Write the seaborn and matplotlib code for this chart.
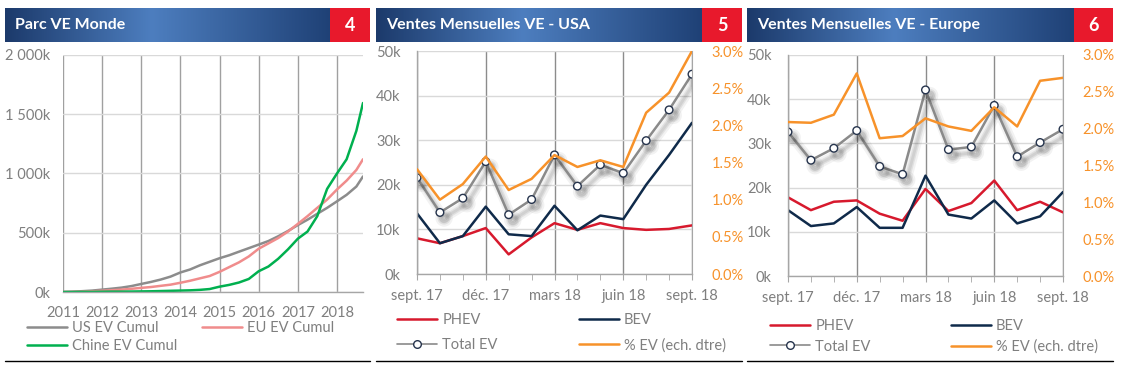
import matplotlib
matplotlib.use("Agg")
import matplotlib.pyplot as plt
import matplotlib.dates as mdates
import matplotlib.patheffects as pe
from matplotlib.colors import LinearSegmentedColormap
from matplotlib.lines import Line2D
from matplotlib.patches import Rectangle
from matplotlib.ticker import FuncFormatter, MultipleLocator, FixedLocator
import numpy as np
import pandas as pd
import seaborn as sns

# --- DONNEES ---

# Parc VE Monde (cumul, en milliers)
parc_dates = ["2011-01-01", "2011-04-01", "2011-07-01", "2011-10-01",
              "2012-01-01", "2012-04-01", "2012-07-01", "2012-10-01",
              "2013-01-01", "2013-04-01", "2013-07-01", "2013-10-01",
              "2014-01-01", "2014-04-01", "2014-07-01", "2014-10-01",
              "2015-01-01", "2015-04-01", "2015-07-01", "2015-10-01",
              "2016-01-01", "2016-04-01", "2016-07-01", "2016-10-01",
              "2017-01-01", "2017-04-01", "2017-07-01", "2017-10-01",
              "2018-01-01", "2018-04-01", "2018-07-01", "2018-09-01"]
us_cumul = [0, 3, 7, 12, 20, 28, 37, 50, 68, 85, 105, 130, 165, 190, 225, 255,
            285, 310, 340, 370, 400, 430, 470, 515, 565, 610, 660, 710, 765, 820, 890, 975]
eu_cumul = [0, 1, 3, 6, 10, 15, 20, 27, 35, 42, 52, 62, 78, 95, 115, 135,
            170, 210, 250, 300, 365, 410, 455, 510, 575, 640, 710, 780, 865, 940, 1030, 1120]
chine_cumul = [0, 0, 1, 1, 2, 3, 3, 4, 5, 6, 8, 10, 12, 14, 18, 25,
               45, 60, 80, 110, 175, 215, 280, 360, 450, 510, 640, 870, 1000, 1120, 1360, 1595]

# Ventes mensuelles (en milliers) et part de marche (%)
mois = ["sept. 17", "oct. 17", "nov. 17", "déc. 17", "janv. 18", "févr. 18", "mars 18",
        "avr. 18", "mai 18", "juin 18", "juil. 18", "août 18", "sept. 18"]

usa_phev = [8.0, 6.9, 8.5, 10.3, 4.4, 8.2, 11.4, 9.9, 11.4, 10.3, 9.9, 10.1, 10.9]
usa_bev = [13.6, 6.9, 8.5, 15.1, 8.9, 8.5, 15.3, 9.8, 13.1, 12.3, 20.0, 26.7, 33.9]
usa_total = [21.6, 13.8, 17.0, 25.2, 13.3, 16.7, 26.7, 19.7, 24.5, 22.6, 29.9, 36.8, 44.8]
usa_pct = [1.41, 1.00, 1.21, 1.58, 1.13, 1.28, 1.60, 1.44, 1.53, 1.44, 2.17, 2.44, 3.00]

eur_phev = [17.8, 14.9, 16.8, 17.1, 14.1, 12.5, 19.7, 14.7, 16.5, 21.6, 14.9, 16.8, 14.4]
eur_bev = [14.9, 11.3, 11.9, 15.6, 10.9, 10.9, 22.7, 13.9, 13.0, 17.1, 11.9, 13.5, 19.0]
eur_total = [32.6, 26.2, 28.9, 32.9, 24.8, 23.0, 42.1, 28.6, 29.2, 38.6, 27.0, 30.2, 33.2]
eur_pct = [2.09, 2.08, 2.19, 2.75, 1.87, 1.90, 2.14, 2.03, 1.97, 2.29, 2.03, 2.65, 2.69]

# --- STYLE ---
W, H = 1126, 369
ROUGE = "#d7192d"
MARINE = "#0f2a4a"
GRIS = "#8a8a8a"
ORANGE = "#f7922a"
TXT = "#7f7f7f"
LW = 1.8

sns.set_style("white")
plt.rcParams["font.family"] = ["Lato", "DejaVu Sans"]
plt.rcParams["font.size"] = 10

fig = plt.figure(figsize=(W / 100, H / 100), dpi=100)

cmap_bandeau = LinearSegmentedColormap.from_list(
    "bandeau", [(0, "#1c3a6b"), (0.45, "#4d7ebf"), (1, "#1f4176")])


def bandeau(x0, xr, x1, titre, num):
    hax = fig.add_axes([x0 / W, 1 - 42 / H, (x1 - x0) / W, 34 / H])
    hax.imshow(np.linspace(0, 1, 256)[None, :], aspect="auto", cmap=cmap_bandeau,
               extent=[x0, xr, 0, 1])
    hax.add_patch(Rectangle((xr, 0), x1 - xr, 1, color="#e8192c", lw=0))
    hax.set_xlim(x0, x1)
    hax.set_ylim(0, 1)
    hax.axis("off")
    hax.text(x0 + 10, 0.5, titre, color="white", fontsize=11.5, fontweight="bold",
             va="center", ha="left")
    hax.text((xr + x1) / 2, 0.48, num, color="white", fontsize=13, fontweight="bold",
             va="center", ha="center")
    fig.add_artist(Line2D([x0 / W, x1 / W], [1 - 361 / H] * 2, color="black", lw=1))


def cadre(ax, right=False):
    for s in ["left", "bottom"]:
        ax.spines[s].set_color("#a6a6a6")
        ax.spines[s].set_linewidth(1)
    ax.spines["top"].set_visible(False)
    ax.spines["right"].set_visible(right)
    ax.spines["right"].set_color("#a6a6a6")
    ax.tick_params(colors=TXT, labelsize=10.5)


# --- PANNEAU 4 : Parc VE Monde ---
df_parc = pd.DataFrame({"date": pd.to_datetime(parc_dates), "US": us_cumul,
                        "EU": eu_cumul, "Chine": chine_cumul})
ax1 = fig.add_axes([63 / W, 1 - 292 / H, 300 / W, 237 / H])
sns.lineplot(data=df_parc, x="date", y="US", ax=ax1, color="#8c8c8c", lw=LW, label="US EV Cumul")
sns.lineplot(data=df_parc, x="date", y="EU", ax=ax1, color="#f08c8c", lw=LW, label="EU EV Cumul")
sns.lineplot(data=df_parc, x="date", y="Chine", ax=ax1, color="#00b04f", lw=LW, label="Chine EV Cumul")
ax1.set_xlim(pd.Timestamp("2011-01-01"), pd.Timestamp("2018-09-01"))
ax1.set_ylim(0, 2000)
ax1.yaxis.set_major_locator(MultipleLocator(500))
ax1.yaxis.set_major_formatter(FuncFormatter(lambda v, p: f"{v:,.0f}".replace(",", " ") + "k"))
ax1.xaxis.set_major_locator(mdates.YearLocator())
ax1.xaxis.set_major_formatter(mdates.DateFormatter("%Y"))
ax1.grid(axis="y", color="#d9d9d9", lw=1)
ax1.grid(axis="x", color="#a0a0a0", lw=1)
ax1.set_xlabel("")
ax1.set_ylabel("")
cadre(ax1)
ax1.spines["left"].set_visible(False)
ax1.tick_params(axis="y", length=0, pad=9)
ax1.tick_params(axis="x", length=0, pad=10)
h, l = ax1.get_legend_handles_labels()
ax1.get_legend().remove()
fig.legend([h[0], h[2], h[1]], [l[0], l[2], l[1]], loc="upper left",
           bbox_to_anchor=(27 / W, 1 - 321 / H, 307 / W, 0), mode="expand", ncol=2,
           frameon=False, borderpad=0, borderaxespad=0, handlelength=2.75,
           handletextpad=0.35, labelspacing=0.3, fontsize=10.5, labelcolor=TXT)


# --- PANNEAUX 5 et 6 : ventes mensuelles ---
def panneau_mensuel(x0, top, bot, phev, bev, total, pct, leg_x0, leg_x1, leg_top, ls):
    ax = fig.add_axes([x0 / W, 1 - bot / H, 275 / W, (bot - top) / H])
    x = list(range(len(mois)))
    sns.lineplot(x=x, y=phev, ax=ax, color=ROUGE, lw=LW, label="PHEV")
    sns.lineplot(x=x, y=bev, ax=ax, color=MARINE, lw=LW, label="BEV")
    sns.lineplot(x=x, y=total, ax=ax, color=GRIS, lw=LW, marker="o", markersize=5.5,
                 markerfacecolor="white", markeredgecolor="#26344d", markeredgewidth=1,
                 label="Total EV",
                 path_effects=[pe.SimpleLineShadow(offset=(3, -4), shadow_color="black",
                                                   alpha=0.05, linewidth=7),
                               pe.SimpleLineShadow(offset=(3, -4), shadow_color="black",
                                                   alpha=0.07, linewidth=4),
                               pe.SimpleLineShadow(offset=(3, -4), shadow_color="black",
                                                   alpha=0.07, linewidth=2),
                               pe.Normal()])
    ax.set_xlim(0, len(mois) - 1)
    ax.set_ylim(0, 50)
    ax.yaxis.set_major_locator(MultipleLocator(10))
    ax.yaxis.set_major_formatter(FuncFormatter(lambda v, p: f"{v:.0f}k"))
    ax.xaxis.set_major_locator(FixedLocator(x[::3]))
    ax.set_xticklabels(mois[::3])
    ax.xaxis.set_minor_locator(FixedLocator(x))
    ax.grid(axis="y", color="#d9d9d9", lw=1)
    ax.grid(axis="x", which="major", color="#8c8c8c", lw=1)
    cadre(ax, right=True)
    ax.tick_params(axis="y", length=0, pad=12)
    ax.tick_params(axis="x", which="both", length=4, color="#a6a6a6", direction="out",
                   bottom=True, pad=7)

    ax2 = ax.twinx()
    sns.lineplot(x=x, y=pct, ax=ax2, color=ORANGE, lw=LW, label="% EV (ech. dtre)")
    ax2.set_ylim(0, 3)
    ax2.yaxis.set_major_locator(MultipleLocator(0.5))
    ax2.yaxis.set_major_formatter(FuncFormatter(lambda v, p: f"{v:.1f}%"))
    ax2.grid(False)
    for s in ax2.spines.values():
        s.set_visible(False)
    ax2.tick_params(axis="y", length=0, pad=14, colors=ORANGE, labelsize=10.5)
    ax2.set_ylabel("")

    h1, l1 = ax.get_legend_handles_labels()
    h2, l2 = ax2.get_legend_handles_labels()
    ax.get_legend().remove()
    ax2.get_legend().remove()
    total_handle = Line2D([], [], color=GRIS, lw=1.2, marker="o", markersize=5.5,
                          markerfacecolor="white", markeredgecolor="#26344d",
                          markeredgewidth=1)
    hh = [h1[0], total_handle, h1[1], h2[0]]
    ll = [l1[0], l1[2], l1[1], l2[0]]
    fig.legend(hh, ll, loc="upper left",
               bbox_to_anchor=(leg_x0 / W, 1 - leg_top / H, (leg_x1 - leg_x0) / W, 0),
               mode="expand", ncol=2, frameon=False, borderpad=0, borderaxespad=0,
               handlelength=2.75, handletextpad=0.35, labelspacing=ls, fontsize=10.5,
               labelcolor=TXT)
    return ax


panneau_mensuel(417, 51, 274, usa_phev, usa_bev, usa_total, usa_pct, 397, 726, 313, 0.75)
panneau_mensuel(788, 55, 276, eur_phev, eur_bev, eur_total, eur_pct, 770, 1098, 319, 0.45)

bandeau(5, 330, 370, "Parc VE Monde", "4")
bandeau(376, 702, 742, "Ventes Mensuelles VE - USA", "5")
bandeau(747, 1074, 1113, "Ventes Mensuelles VE - Europe", "6")

fig.savefig("out.png", dpi=100)
